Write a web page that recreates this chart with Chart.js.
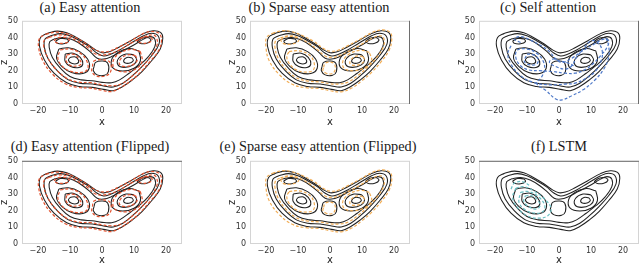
<!DOCTYPE html>
<html>
<head>
<meta charset="utf-8">
<script src="https://cdn.jsdelivr.net/npm/chart.js@4.4.1/dist/chart.umd.min.js"></script>
<style>
  html, body { margin: 0; padding: 0; background: #fff; }
  body { width: 640px; height: 264px; position: relative; overflow: hidden; }
  .panel { position: absolute; }
  .title {
    position: absolute; width: 260px; margin-left: -130px; text-align: center;
    font-family: "Liberation Serif", "DejaVu Serif", serif; font-size: 14.3px; color: #1a1a1a;
    line-height: 14px; white-space: nowrap;
  }
</style>
</head>
<body>
<script>
// axis ticks
const X_TICKS = [-20, -10, 0, 10, 20];
const Z_TICKS = [0, 10, 20, 30, 40, 50];

// reference trajectory (black), [x, z]
const trueOuter1 = [[-17,42.5],[-14,43.8],[-11,42.8],[-8,40],[-5,36.5],[-2,32.5],[0,30.8],[2,31.2],[5,33.8],[9,38],[13,42.3],[16,44],[18.3,43],[19,39.5],[18.2,33],[15.5,26],[12.5,19.5],[9.5,14.5],[6.5,10.5],[3.5,8],[0.5,8.8],[-3,10],[-7,10.5],[-11,12.8],[-15,18.5],[-18,26.5],[-19.5,34.5],[-19.2,40],[-17,42.5]];
const trueOuter2 = [[-16,41],[-13,42.3],[-10,41],[-7,38],[-4,34.5],[-1.5,30.5],[0.5,28.8],[2.5,29.8],[5.5,32.5],[9,36.5],[13,41],[15.5,42.5],[17.5,41],[17.8,36],[15.5,29],[12.5,22.5],[9.5,17],[6.5,12.5],[3.5,10.2],[0.5,10.8],[-3,12],[-7,12.5],[-10.5,14.5],[-14,20],[-16.8,27],[-18,34],[-17.8,39],[-16,41]];
const trueOuter3 = [[-15,39],[-12,40],[-9,38.5],[-6,35],[-3.5,31],[-1.5,27.5],[0.5,27],[3,28.5],[6,31.5],[9.5,35],[13,39],[15,40.5],[16.5,39],[16.5,34.5],[14.5,28.5],[11.5,23],[8.5,18.5],[5.5,14.5],[3,12.8],[0,13],[-3,14],[-6.5,14.5],[-10,16.5],[-13,21.5],[-15.5,28],[-16.5,34],[-16.3,37.5],[-15,39]];
const trueLeftA = [[-13.5,33],[-10.5,33.8],[-7,31.5],[-4.5,27],[-4,21.5],[-6,18.3],[-9.5,19],[-12.5,22.5],[-14.2,27.5],[-13.5,33]];
const trueLeftB = [[-11.5,30],[-9,30.5],[-6.8,28],[-6,24],[-7.2,22],[-9.8,22.5],[-11.5,25.5],[-11.5,30]];
const trueLeftC = [[-10,28],[-8.3,28.3],[-7.3,26],[-7.8,24.3],[-9.5,24.5],[-10.5,26.3],[-10,28]];
const trueRightA = [[11.5,32],[8.5,33.3],[5,31],[3,26.5],[3.5,21.5],[6.5,19.8],[10,21.5],[12,26],[11.5,32]];
const trueRightB = [[10,29.5],[7.5,30],[5.2,27.5],[5,23.5],[7,22],[9.8,23.5],[10.8,26.5],[10,29.5]];
const trueRightC = [[9.3,27.8],[7.8,28],[6.8,26.3],[7.3,24.6],[9,24.8],[9.8,26.2],[9.3,27.8]];
const trueTopL = [[-14.5,37.8],[-13,39.3],[-11,39],[-10.5,37.5],[-12,36.2],[-14,36.5],[-14.5,37.8]];
const trueTopR = [[11,37.5],[12.5,39.5],[14.5,39.8],[15.3,38.3],[14,36.5],[12,36.3],[11,37.5]];
const trueCenter = [[-2.5,22.5],[-2,25],[0.2,25.8],[1.8,24.5],[2,19.5],[0.8,17.3],[-1.5,17.5],[-2.7,20],[-2.5,22.5]];

// easy attention prediction (red)
const easyOuter1 = [[-17.5,42],[-14.5,43.2],[-11.5,42.5],[-8.5,40.2],[-5.5,37],[-2.5,33],[0,31.3],[2.3,31.8],[5.5,34.5],[9.5,38.5],[13.5,42.8],[16.3,43.5],[18,42],[18.6,38.5],[17.8,32.5],[15,25.5],[12,19],[9,14],[6,10],[3,7.5],[0,8.2],[-3.5,9.5],[-7.5,10],[-11.5,12.2],[-15.5,18],[-18.5,26],[-19.8,34],[-19.5,39.5],[-17.5,42]];
const easyOuter2 = [[-16.5,40],[-13.5,41.5],[-10.5,40.5],[-7.5,37.5],[-4.5,34],[-2,30],[0.5,29.5],[3,30.5],[6,33],[9.5,37],[13.5,40.5],[16,41.5],[17,40],[17.2,35.5],[15,28],[12,21.5],[9,16],[6,12],[3,11],[0,11.5],[-3.5,12.8],[-7.5,13.2],[-11,15.5],[-14.5,21],[-17,28],[-18.2,34.5],[-18,38.5],[-16.5,40]];
const easyLeftA = [[-13,32.5],[-10,33],[-6.8,30.5],[-4.8,26],[-4.5,21],[-6.5,19],[-10,19.8],[-12.8,23.5],[-13.8,28],[-13,32.5]];
const easyLeftB = [[-11,29.5],[-8.7,29.8],[-7.2,27.2],[-6.5,24.2],[-7.8,22.8],[-10,23.3],[-11.2,26],[-11,29.5]];
const easyRightA = [[12,31.5],[9,32.8],[5.5,30.5],[3.5,26],[4,21],[7,19.3],[10.5,21],[12.5,25.5],[12,31.5]];
const easyRightB = [[10.5,29],[8,29.5],[5.8,27],[5.5,23.8],[7.3,22.5],[9.8,23.8],[11,26.3],[10.5,29]];
const easyTopL = [[-15,38],[-13.2,40],[-10.8,39.5],[-10.2,37.8],[-12,36.5],[-14.2,36.8],[-15,38]];
const easyTopR = [[10.8,38],[12.8,40],[15,40.2],[15.7,38.5],[14.2,36.7],[12,36.8],[10.8,38]];
const easyCenter = [[-3,22.5],[-2.5,25.8],[0.5,26.5],[2.5,25],[2.7,19.5],[1,16.8],[-2,17],[-3.2,19.8],[-3,22.5]];

// sparse easy attention prediction (orange)
const sparseOuter1 = [[-18,42.5],[-15,44],[-12,43.5],[-8.5,41],[-5,37.5],[-2.2,33.5],[0,31.8],[2.5,32.3],[5.5,35],[9.5,39],[13.5,43.3],[16.5,44.5],[18.8,43],[19.3,39],[18.5,32.5],[16,25.5],[13,19],[10,14],[7,9.8],[3.5,7.3],[0,8],[-3.5,9.3],[-7.5,9.8],[-12,12],[-16,18],[-19,26],[-20,34],[-19.8,40],[-18,42.5]];
const sparseOuter2 = [[-15.5,39.8],[-12.5,41],[-9.5,39.5],[-6.5,36.3],[-3.8,32.5],[-1.5,28.8],[0.8,28],[3.2,29.3],[6.5,32.3],[10,36],[13.5,39.8],[15.8,41],[16.8,39.5],[16.8,35],[14.8,28.5],[11.8,22.3],[8.8,17.3],[5.8,13.3],[3,12],[0,12.2],[-3.3,13.3],[-7,13.8],[-10.5,15.8],[-13.8,21],[-16.2,27.5],[-17.2,34],[-17,38],[-15.5,39.8]];
const sparseLeftA = [[-12.8,31.5],[-9.8,32],[-6.5,29.5],[-5,25],[-5.2,20.5],[-7.5,19.2],[-10.5,20.5],[-12.8,24.5],[-13.5,28.5],[-12.8,31.5]];
const sparseRightA = [[12.3,31],[9.5,32.3],[6,30],[4,25.5],[4.5,21.3],[7.5,20],[11,22],[13,26],[12.3,31]];
const sparseRightB = [[10.3,28.5],[8.2,28.8],[6.5,26.5],[6.3,24],[8,23.3],[10,24.5],[10.8,26.5],[10.3,28.5]];
const sparseTopL = [[-15.5,38.5],[-13.5,40.5],[-10.5,40],[-9.8,38],[-12,36],[-14.5,36.3],[-15.5,38.5]];
const sparseCenter = [[-2,22],[-1.5,24.5],[0.5,25],[1.5,23.5],[1.5,20],[0.5,18.2],[-1.2,18.5],[-2.2,20.2],[-2,22]];

// self attention prediction (blue)
const selfPath1 = [[-12,37],[-14,39],[-12,40.5],[-9,38.5],[-6,35.5],[-3,31.5],[-1,27],[1,25],[4,27.5],[7,31.5],[11,36],[14,39],[15.5,38],[15,34],[13,29],[10.5,24],[8,20.5],[5,18.5],[2,18.5],[-2,19.5],[-6,20],[-9.5,20.5],[-12,23],[-13.5,28],[-13,32.5],[-10,33],[-7,30.5],[-5,26],[-4.5,21],[-5.5,16],[-7,12.5],[-4,8],[-1,3],[1,2.5],[4,5],[7.5,8.5],[11,14],[14,21],[15.5,28],[15.5,35],[14.5,40.5]];
const selfPath2 = [[-15,35],[-16,30],[-15,24],[-12,17],[-8,13],[-3,11.5],[2,12],[5,12.5],[8,15],[11,19],[13,25],[13.5,32],[12,37],[10,38],[8,34],[5.5,28],[4,23],[2,21],[-1,22.5],[-3,25],[-2,27],[0,26],[3,24.5],[5,22.5]];
const selfPath3 = [[-10,30],[-8,29.5],[-6.5,27],[-7,24],[-9,23.5],[-10.8,25.5],[-10,30]];

// LSTM prediction (teal)
const lstmA = [[-13.5,33.5],[-11,34.5],[-8,32],[-4.5,27],[-2.5,21.5],[-3.5,17],[-6.5,15.5],[-10,17],[-13,22],[-14.5,28],[-13.5,33.5]];
const lstmB = [[-12,31],[-9.5,31.5],[-6.5,28.5],[-4.5,23.5],[-5,19.5],[-7.5,18.5],[-10.5,20.5],[-12.5,25],[-12,31]];
const lstmC = [[-10.5,29],[-8.5,29],[-6.5,26],[-6,22.5],[-7.5,21],[-9.5,22.5],[-11,25.5],[-10.5,29]];
const lstmD = [[-15,33],[-14,36.5],[-11.5,37.5],[-9,35]];

const TRUE_LOOPS = [trueOuter1, trueOuter2, trueOuter3, trueLeftA, trueLeftB, trueLeftC, trueRightA, trueRightB, trueRightC, trueTopL, trueTopR, trueCenter];
const EASY_LOOPS = [easyOuter1, easyOuter2, easyLeftA, easyLeftB, easyRightA, easyRightB, easyTopL, easyTopR, easyCenter];
const SPARSE_LOOPS = [sparseOuter1, sparseOuter2, sparseLeftA, sparseRightA, sparseRightB, sparseTopL, sparseCenter];
const SELF_LOOPS = [selfPath1, selfPath2, selfPath3];
const LSTM_LOOPS = [lstmA, lstmB, lstmC, lstmD];

const PANELS = [
  { title: "(a) Easy attention", left: 0, top: 12, h: 120, xh: 28, tx: 90, ty: 0, pred: EASY_LOOPS, color: "#e4532f", dark: null },
  { title: "(b) Sparse easy attention", left: 228, top: 12, h: 120, xh: 28, tx: 319, ty: 0, pred: SPARSE_LOOPS, color: "#f2ad55", dark: "right" },
  { title: "(c) Self attention", left: 457, top: 12, h: 120, xh: 28, tx: 548, ty: 0, pred: SELF_LOOPS, color: "#4d78c8", dark: "right" },
  { title: "(d) Easy attention (Flipped)", left: 0, top: 152, h: 118, xh: 26, tx: 90, ty: 139, pred: EASY_LOOPS, color: "#e4532f", dark: "top" },
  { title: "(e) Sparse easy attention (Flipped)", left: 228, top: 152, h: 118, xh: 26, tx: 318, ty: 139, pred: SPARSE_LOOPS, color: "#f2ad55", dark: null },
  { title: "(f) LSTM", left: 457, top: 152, h: 118, xh: 26, tx: 559, ty: 139, pred: LSTM_LOOPS, color: "#6cc0c4", dark: "top" },
];

const toPts = (loop) => loop.map(([x, z]) => ({ x: x, y: z }));
const minus = (v) => String(v).replace("-", "\u2212");

// light frame on all four sides, one side darker on some panels
const framePlugin = {
  id: "frame",
  afterDraw(chart, args, opts) {
    const { ctx, chartArea: a } = chart;
    ctx.save();
    ctx.lineWidth = 1;
    ctx.strokeStyle = "#d4d4d4";
    ctx.strokeRect(a.left + 0.5, a.top + 0.5, a.right - a.left - 1, a.bottom - a.top - 1);
    if (opts.dark) {
      ctx.strokeStyle = "#6e6e6e";
      ctx.beginPath();
      if (opts.dark === "right") { ctx.moveTo(a.right - 0.5, a.top); ctx.lineTo(a.right - 0.5, a.bottom); }
      if (opts.dark === "top") { ctx.moveTo(a.left, a.top + 0.5); ctx.lineTo(a.right, a.top + 0.5); }
      ctx.stroke();
    }
    ctx.restore();
  },
};

PANELS.forEach((p) => {
  const t = document.createElement("div");
  t.className = "title";
  t.style.left = p.tx + "px";
  t.style.top = p.ty + "px";
  t.textContent = p.title;
  document.body.appendChild(t);

  const wrap = document.createElement("div");
  wrap.className = "panel";
  wrap.style.left = p.left + "px";
  wrap.style.top = p.top + "px";
  const canvas = document.createElement("canvas");
  canvas.width = 184;
  canvas.height = p.h;
  canvas.style.width = "184px";
  canvas.style.height = p.h + "px";
  wrap.appendChild(canvas);
  document.body.appendChild(wrap);

  const datasets = [];
  p.pred.forEach((loop) => {
    datasets.push({
      data: toPts(loop), borderColor: p.color, borderWidth: 1.2, borderDash: [3, 2],
      pointRadius: 0, showLine: true, tension: 0.4, order: 0,
    });
  });
  TRUE_LOOPS.forEach((loop) => {
    datasets.push({
      data: toPts(loop), borderColor: "#222", borderWidth: 1.05,
      pointRadius: 0, showLine: true, tension: 0.4, order: 1,
    });
  });

  new Chart(canvas, {
    type: "scatter",
    data: { datasets: datasets },
    options: {
      responsive: false,
      animation: false,
      devicePixelRatio: 1,
      layout: { padding: { left: 0, right: 2, top: 0, bottom: 0 } },
      plugins: { legend: { display: false }, tooltip: { enabled: false }, frame: { dark: p.dark } },
      scales: {
        x: {
          type: "linear", min: -25, max: 25,
          afterBuildTicks: (s) => { s.ticks = X_TICKS.map((v) => ({ value: v })); },
          afterFit: (s) => { s.height = p.xh; },
          grid: { display: false, drawTicks: false },
          border: { display: false },
          ticks: { padding: 2, color: "#333", font: { family: "DejaVu Sans", size: 8 }, callback: (v) => minus(v), maxRotation: 0 },
          title: { display: true, text: "x", color: "#222", font: { family: "DejaVu Sans", size: 10 }, padding: { top: 0, bottom: 4 } },
        },
        y: {
          type: "linear", min: 0, max: 50,
          afterBuildTicks: (s) => { s.ticks = Z_TICKS.map((v) => ({ value: v })); },
          afterFit: (s) => { s.width = 22; },
          grid: { display: false, drawTicks: false },
          border: { display: false },
          ticks: { padding: 4, color: "#333", font: { family: "DejaVu Sans", size: 8 } },
          title: { display: true, text: "z", color: "#222", font: { family: "DejaVu Sans", size: 10, lineHeight: 0.9 }, padding: { top: 0, bottom: 0 } },
        },
      },
    },
    plugins: [framePlugin],
  });
});
</script>
</body>
</html>
